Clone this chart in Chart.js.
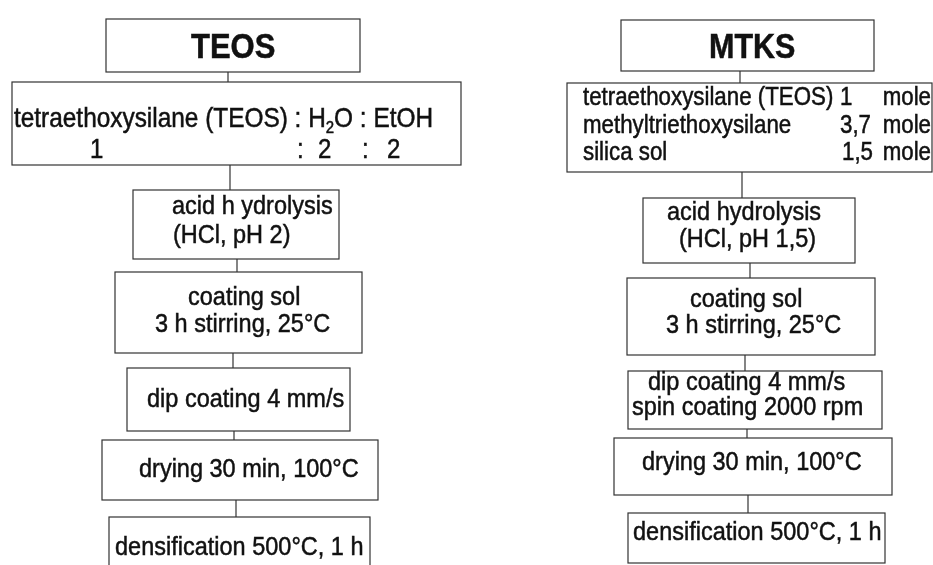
<!DOCTYPE html>
<html>
<head>
<meta charset="utf-8">
<script src="https://cdn.jsdelivr.net/npm/chart.js@4/dist/chart.umd.min.js"></script>
<style>
  html, body { margin: 0; background: #fff; }
  #wrap { width: 933px; height: 565px; }
</style>
</head>
<body>
<div id="wrap"><canvas id="flowChart" width="933" height="565"></canvas></div>
<script>
// 🧪 TEOS route
const teosTitle = "TEOS";
const teosMix = "tetraethoxysilane (TEOS) : H_2O : EtOH";
const teosRatio = ["1", ":", "2", ":", "2"];
const teosSteps = [
    ["acid h ydrolysis", "(HCl, pH 2)"],
    ["coating sol", "3 h stirring, 25°C"],
    ["dip coating 4 mm/s"],
    ["drying 30 min, 100°C"],
    ["densification 500°C, 1 h"]
];

// 🧪 MTKS route
const mtksTitle = "MTKS";
const mtksComponents = ["tetraethoxysilane (TEOS)", "methyltriethoxysilane", "silica sol"];
const mtksMoles = ["1", "3,7", "1,5"];
const mtksUnit = "mole";
const mtksSteps = [
    ["acid hydrolysis", "(HCl, pH 1,5)"],
    ["coating sol", "3 h stirring, 25°C"],
    ["dip coating 4 mm/s", "spin coating 2000 rpm"],
    ["drying 30 min, 100°C"],
    ["densification 500°C, 1 h"]
];

// layout (chart units, y goes down): boxes are [x0, y0, x1, y1], lines are [x, baseline]
const layout = {
    teos: {
        boxes: [[106, 19, 360, 72], [12, 82, 461, 165], [133, 190, 339, 259], [115, 272, 362, 353],
                [127, 368, 350, 431], [102, 440, 378, 500], [109, 517, 370, 600]],
        links: [228, 230, 237, 233, 234, 236],
        title: [191, 58],
        mix: [14, 127],
        ratio: [[90, 158], [297, 158], [318, 158], [362, 158], [387, 158]],
        steps: [[[172, 214], [173, 243]], [[188, 305], [155, 332]], [[147, 407]], [[139, 477]], [[115, 555]]]
    },
    mtks: {
        boxes: [[621, 20, 874, 71], [567, 83, 932, 172], [643, 198, 855, 263], [627, 278, 875, 355],
                [628, 371, 882, 429], [614, 438, 892, 495], [628, 513, 885, 563]],
        links: [740, 742, 750, 745, 747, 748],
        title: [709, 58],
        components: [[583, 105], [583, 133], [583, 160]],
        moles: [[840, 105], [840, 133], [842, 160]],
        unitRight: 931,
        steps: [[[667, 220], [679, 247]], [[690, 307], [666, 333]], [[648, 390], [632, 415]], [[642, 470]], [[633, 540]]]
    }
};

const FONT = "'Liberation Sans', Arial, sans-serif";
const STRETCH = 1.12; // the scan is slightly taller than plain Arial

function drawText(ctx, text, px, py, size, bold, align) {
    ctx.save();
    ctx.translate(px, py);
    ctx.scale(1, STRETCH);
    ctx.fillStyle = "#111";
    ctx.strokeStyle = "#111";
    ctx.lineWidth = 0.45; // scanned print looks a bit heavier
    ctx.textBaseline = "alphabetic";
    const main = (bold ? "bold " : "") + size + "px " + FONT;
    const sub = (bold ? "bold " : "") + Math.round(size * 0.62) + "px " + FONT;
    const parts = text.split(/_(\d)/);
    let total = 0;
    parts.forEach((p, i) => { ctx.font = i % 2 ? sub : main; total += ctx.measureText(p).width; });
    let x = align === "right" ? -total : 0;
    parts.forEach((p, i) => {
        ctx.font = i % 2 ? sub : main;
        const dy = i % 2 ? size * 0.22 : 0;
        ctx.fillText(p, x, dy);
        ctx.strokeText(p, x, dy);
        x += ctx.measureText(p).width;
    });
    ctx.restore();
}

const flowPlugin = {
    id: "flow",
    afterDraw(chart) {
        const { ctx, scales: { x, y } } = chart;
        const px = v => x.getPixelForValue(v);
        const py = v => y.getPixelForValue(v);

        function route(l) {
            ctx.save();
            ctx.strokeStyle = "#333";
            ctx.lineWidth = 1.2;
            l.boxes.forEach(b => ctx.strokeRect(px(b[0]), py(b[1]), px(b[2]) - px(b[0]), py(b[3]) - py(b[1])));
            l.links.forEach((lx, i) => {
                ctx.beginPath();
                ctx.moveTo(px(lx), py(l.boxes[i][3]));
                ctx.lineTo(px(lx), py(l.boxes[i + 1][1]));
                ctx.stroke();
            });
            ctx.restore();
        }
        route(layout.teos);
        route(layout.mtks);

        const t = layout.teos;
        drawText(ctx, teosTitle, px(t.title[0]), py(t.title[1]), 31, true);
        drawText(ctx, teosMix, px(t.mix[0]), py(t.mix[1]), 24.4);
        teosRatio.forEach((s, i) => drawText(ctx, s, px(t.ratio[i][0]), py(t.ratio[i][1]), 24));
        teosSteps.forEach((lines, i) => lines.forEach((s, j) =>
            drawText(ctx, s, px(t.steps[i][j][0]), py(t.steps[i][j][1]), 23.5)));

        const m = layout.mtks;
        drawText(ctx, mtksTitle, px(m.title[0]), py(m.title[1]), 30.5, true);
        mtksComponents.forEach((s, i) => drawText(ctx, s, px(m.components[i][0]), py(m.components[i][1]), 22.3));
        mtksMoles.forEach((s, i) => {
            drawText(ctx, s, px(m.moles[i][0]), py(m.moles[i][1]), 22.3);
            drawText(ctx, mtksUnit, px(m.unitRight), py(m.moles[i][1]), 22.3, false, "right");
        });
        mtksSteps.forEach((lines, i) => lines.forEach((s, j) =>
            drawText(ctx, s, px(m.steps[i][j][0]), py(m.steps[i][j][1]), 23.5)));
    }
};

new Chart(document.getElementById("flowChart"), {
    type: "scatter",
    data: { datasets: [{ data: [] }] },
    options: {
        responsive: false,
        animation: false,
        layout: { padding: 0 },
        scales: {
            x: { type: "linear", min: 0, max: 933, display: false },
            y: { type: "linear", min: 0, max: 565, reverse: true, display: false }
        },
        plugins: { legend: { display: false }, tooltip: { enabled: false } }
    },
    plugins: [flowPlugin]
});
</script>
</body>
</html>
